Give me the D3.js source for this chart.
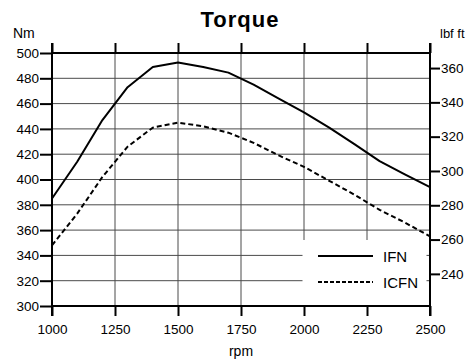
<!DOCTYPE html>
<html><head><meta charset="utf-8">
<script src="https://cdn.jsdelivr.net/npm/d3@7/dist/d3.min.js"></script>
<style>
body{margin:0;background:#fff;}
svg{display:block;font-family:"Liberation Sans",Arial,sans-serif;}
</style></head>
<body><svg id="c" width="472" height="361"></svg>
<script>
const rpm  = [1000,1100,1200,1300,1400,1500,1600,1700,1800,1900,2000,2100,2200,2300,2400,2500];
const ifn  = [385,414,447,473,489,492.5,489,484.5,475,464,453,441,428,414.5,404,394];
const icfn = [348,373,402,426,441,445,442,437,429,419,410,399,388,376,366,355];
const seriesNames = ["IFN","ICFN"];
const xTicks = [1000,1250,1500,1750,2000,2250,2500];
const yTicksNm = [300,320,340,360,380,400,420,440,460,480,500];
const yTicksLbf = [240,260,280,300,320,340,360];
const NM_TO_LBF = 0.737562;

const svg = d3.select("#c");
const L = 52, R = 430, T = 53, B = 306;
const x = d3.scaleLinear().domain([1000,2500]).range([L,R]);
const y = d3.scaleLinear().domain([300,500]).range([B,T]);
const y2 = d3.scaleLinear().domain([300*NM_TO_LBF,500*NM_TO_LBF]).range([B,T]);

const grid = svg.append("g").attr("stroke","#4a4a4a").attr("stroke-width",1);
grid.selectAll(".h").data(yTicksNm).join("line")
  .attr("x1",L).attr("x2",R).attr("y1",d=>y(d)).attr("y2",d=>y(d));
grid.selectAll(".v").data(xTicks).join("line")
  .attr("y1",T).attr("y2",B).attr("x1",d=>x(d)).attr("x2",d=>x(d));

const line = d3.line().x((d,i)=>x(rpm[i])).y(d=>y(d));
svg.append("path").datum(ifn).attr("d",line).attr("fill","none")
  .attr("stroke","#000").attr("stroke-width",2).attr("stroke-linejoin","round");
svg.append("path").datum(icfn).attr("d",line).attr("fill","none")
  .attr("stroke","#000").attr("stroke-width",2).attr("stroke-dasharray","5,3");

const fs = "13.5px";
function styleAxis(g){
  g.select(".domain").remove();
  g.selectAll(".tick line").attr("stroke","#000").attr("stroke-width",2);
  g.selectAll("text").attr("fill","#000").style("font-size",fs)
    .style("font-family","'Liberation Sans',Arial,sans-serif");
}
const fmt = d3.format("d");
svg.append("g").attr("transform",`translate(${L},0)`)
  .call(d3.axisLeft(y).tickValues(yTicksNm).tickFormat(fmt).tickSize(12).tickPadding(1)).call(styleAxis);
svg.append("g").attr("transform",`translate(${R},0)`)
  .call(d3.axisRight(y2).tickValues(yTicksLbf).tickFormat(fmt).tickSize(10).tickPadding(1)).call(styleAxis);
svg.append("g").attr("transform",`translate(0,${B})`)
  .call(d3.axisBottom(x).tickValues(xTicks).tickFormat(fmt).tickSize(10).tickPadding(8)).call(styleAxis);
svg.append("g").attr("transform",`translate(0,${T})`)
  .call(d3.axisTop(x).tickValues(xTicks).tickSize(10).tickFormat("")).call(styleAxis);

// frame
const frame = svg.append("g").attr("stroke","#000").attr("stroke-width",2);
frame.append("line").attr("x1",L).attr("x2",R).attr("y1",T).attr("y2",T);
frame.append("line").attr("x1",L).attr("x2",R).attr("y1",B).attr("y2",B);
frame.append("line").attr("x1",L).attr("x2",L).attr("y1",T-10).attr("y2",B+10);
frame.append("line").attr("x1",R).attr("x2",R).attr("y1",T-10).attr("y2",B+10);

// legend
const lg = svg.append("g");
lg.append("rect").attr("x",302.5).attr("y",240).attr("width",124).attr("height",65).attr("fill","#fff");
const legY = [256,282];
seriesNames.forEach((n,i)=>{
  lg.append("line").attr("x1",318).attr("x2",373).attr("y1",legY[i]).attr("y2",legY[i])
    .attr("stroke","#000").attr("stroke-width",2)
    .attr("stroke-dasharray", i===1 ? "4,2" : null);
  lg.append("text").attr("x",383).attr("y",legY[i]+6).text(n)
    .style("font-size","15px").attr("fill","#000");
});

// titles
svg.append("text").attr("x",240).attr("y",27).attr("text-anchor","middle")
  .style("font-size","22px").style("font-weight","bold").style("letter-spacing","1px").text("Torque");
svg.append("text").attr("x",13).attr("y",38).style("font-size","14px").text("Nm");
svg.append("text").attr("x",440).attr("y",38).style("font-size","13px").text("lbf ft");
svg.append("text").attr("x",241).attr("y",356).attr("text-anchor","middle").style("font-size","14px").text("rpm");
</script></body></html>
